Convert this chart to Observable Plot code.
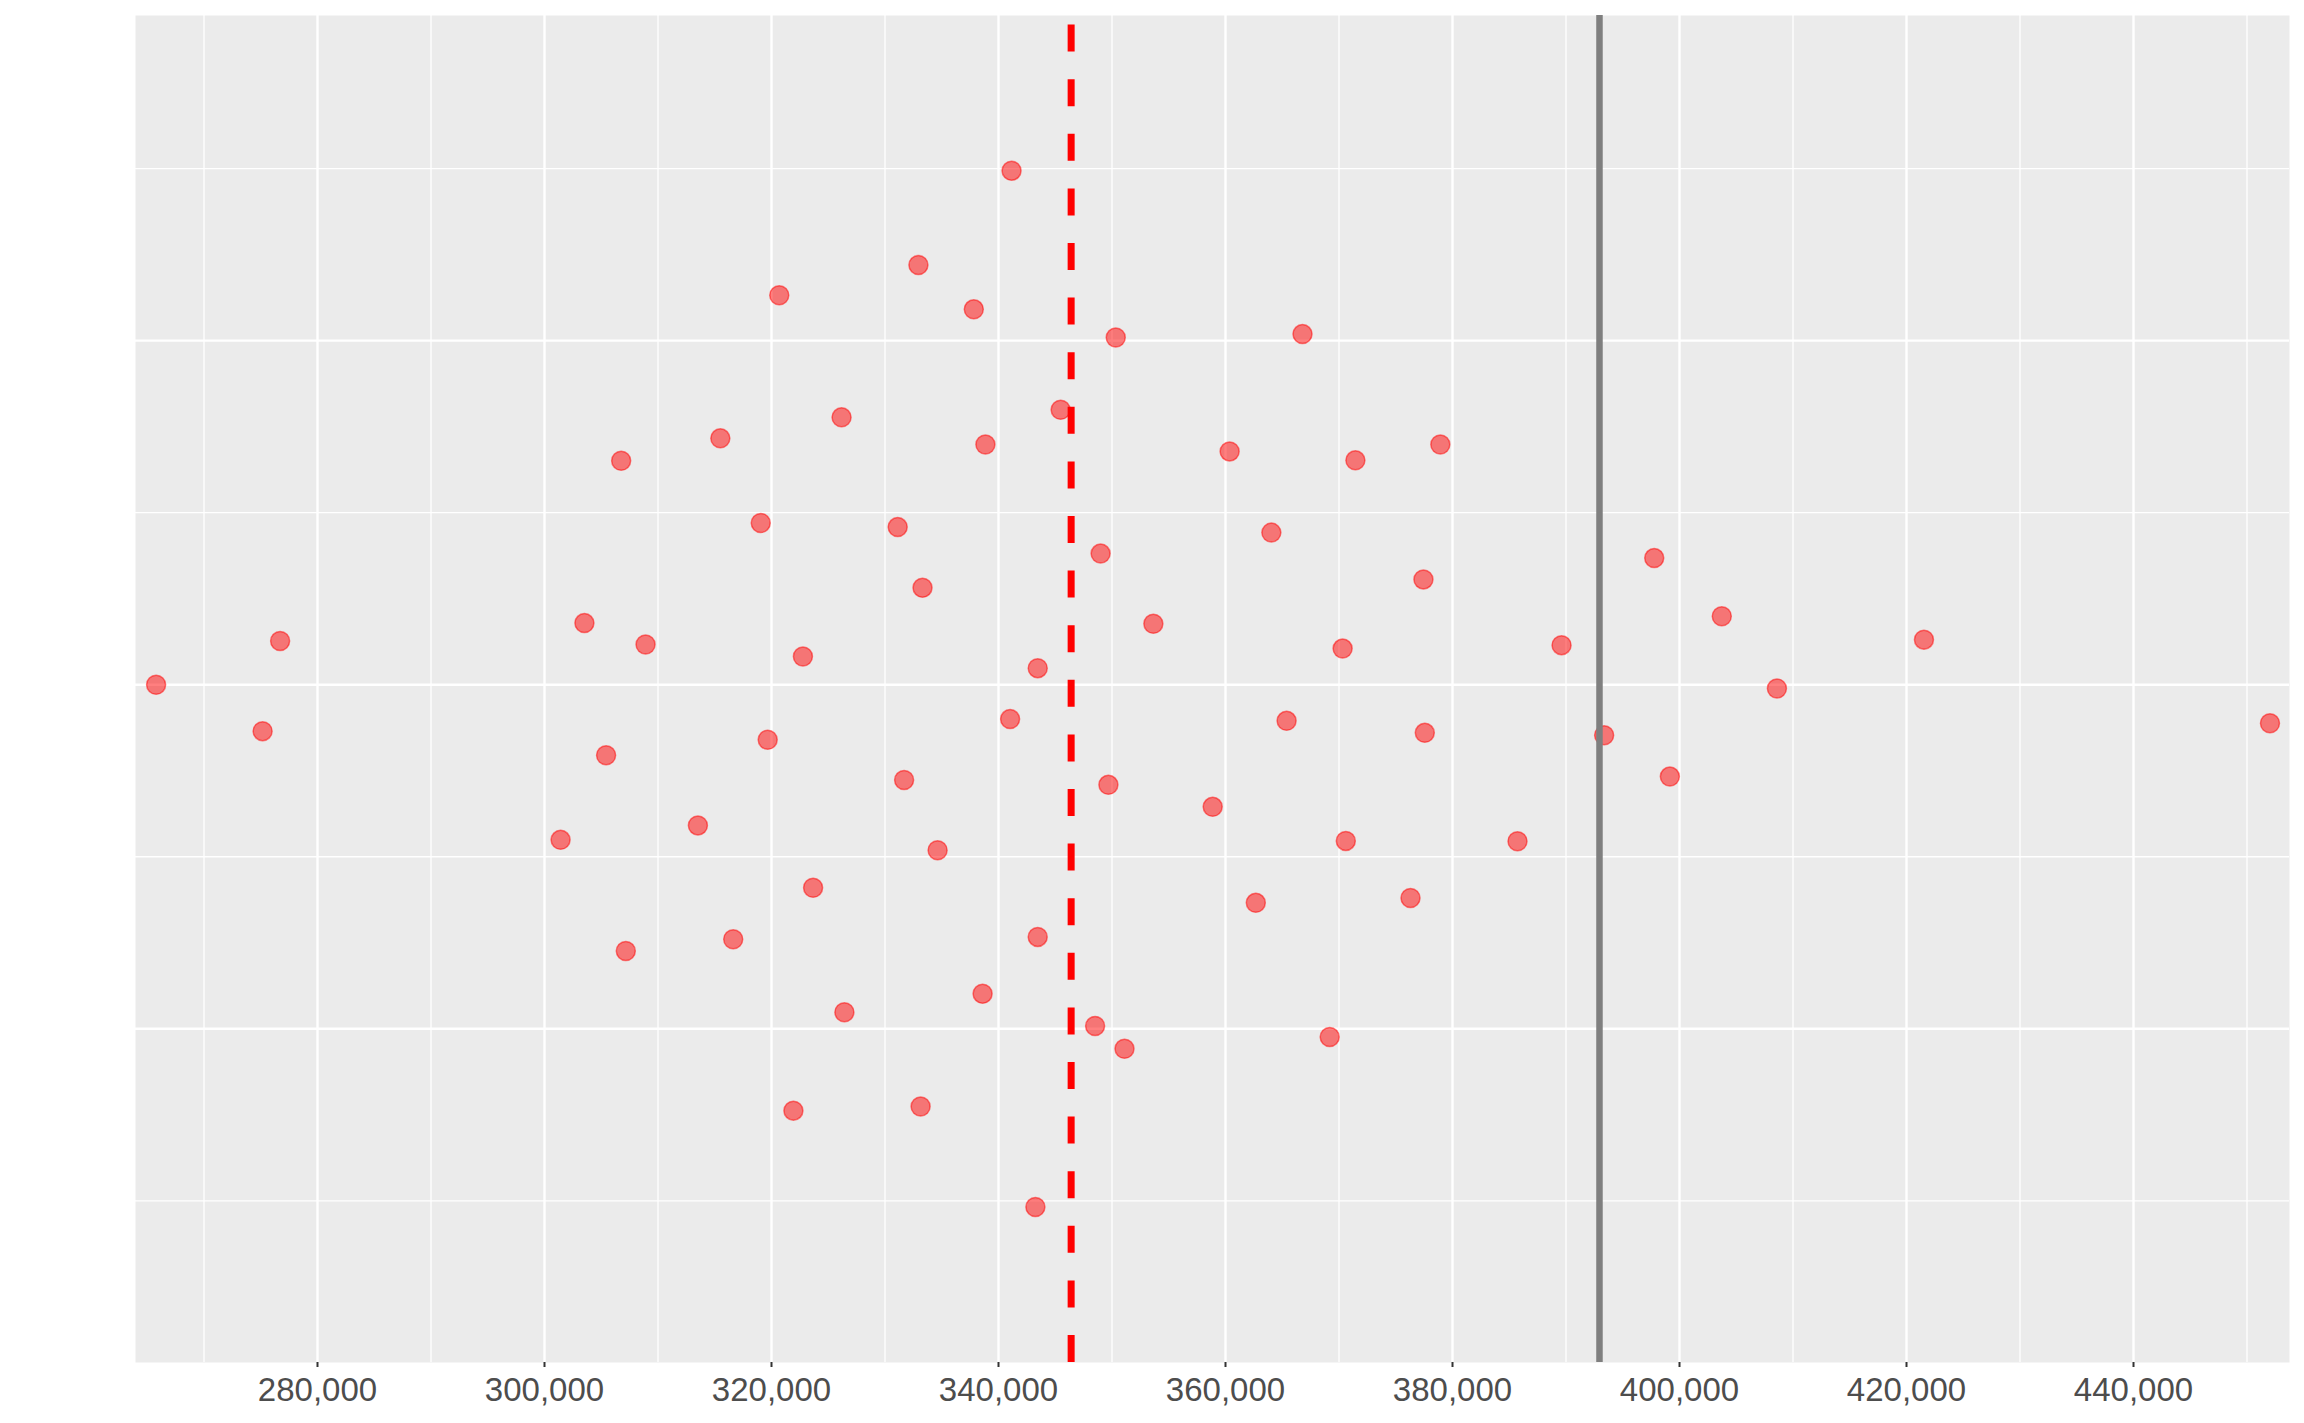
<!DOCTYPE html>
<html>
<head>
<meta charset="utf-8">
<script src="https://cdn.jsdelivr.net/npm/d3@7"></script>
<script src="https://cdn.jsdelivr.net/npm/@observablehq/plot@0.6"></script>
<style>
  html, body { margin: 0; padding: 0; background: #ffffff; }
  #chart svg { display: block; }
</style>
</head>
<body>
<div id="chart"></div>
<script>
// Observed values (x) and their vertical jitter offsets (y)
const xValues = [
  341150, 332944, 320684, 337824, 350330, 366784, 345475, 326173,
  315493, 338847, 306754, 360363, 371445, 378928, 319053, 331118,
  364040, 348997, 397773, 377439, 333306, 403725, 303517, 353644,
  276706, 308903, 389608, 421538, 370319, 322768, 343456, 265780,
  408583, 341022, 365383, 275163, 377559, 393360, 452024, 319665,
  305427, 399150, 331683, 349683, 358872, 313515, 301418, 370599,
  385727, 334634, 323665, 376300, 362670, 343454, 316626, 307163,
  338599, 326423, 348511, 369181, 351101, 333137, 321930, 343251
];
const yValues = [
  1.494, 1.220, 1.132, 1.091, 1.009, 1.019, 0.799, 0.777,
  0.716, 0.698, 0.651, 0.678, 0.652, 0.698, 0.470, 0.458,
  0.442, 0.381, 0.368, 0.306, 0.282, 0.199, 0.179, 0.177,
  0.127, 0.117, 0.115, 0.131, 0.105, 0.082, 0.048, 0.000,
  -0.011, -0.100, -0.105, -0.135, -0.140, -0.147, -0.112, -0.160,
  -0.205, -0.267, -0.277, -0.291, -0.355, -0.409, -0.451, -0.454,
  -0.455, -0.481, -0.590, -0.620, -0.634, -0.733, -0.740, -0.774,
  -0.898, -0.952, -0.992, -1.024, -1.058, -1.226, -1.238, -1.518
];
const meanValue = 346400;      // red dashed line
const referenceValue = 392950; // grey solid line

const xTicks = [280000, 300000, 320000, 340000, 360000, 380000, 400000, 420000, 440000];
const xMinor = [270000, 290000, 310000, 330000, 350000, 370000, 390000, 410000, 430000, 450000];
const yMajor = [-1, 0, 1];
const yMinor = [-1.5, -0.5, 0.5, 1.5];

const xDomain = [263965, 453744];
const yDomain = [-1.970, 1.945];

const points = xValues.map((x, i) => ({x, y: yValues[i]}));

const chart = Plot.plot({
  width: 2304,
  height: 1423,
  marginLeft: 135,
  marginRight: 15,
  marginTop: 15,
  marginBottom: 61,
  style: {fontFamily: "'Liberation Sans', Arial, Helvetica, sans-serif", background: "#ffffff"},
  x: {domain: xDomain, label: null},
  y: {domain: yDomain, axis: null},
  marks: [
    Plot.frame({fill: "#EBEBEB", stroke: null}),
    Plot.gridX(xMinor, {stroke: "#ffffff", strokeOpacity: 1, strokeWidth: 1.3}),
    Plot.gridY(yMinor, {stroke: "#ffffff", strokeOpacity: 1, strokeWidth: 1.3}),
    Plot.gridX(xTicks, {stroke: "#ffffff", strokeOpacity: 1, strokeWidth: 2.4}),
    Plot.gridY(yMajor, {stroke: "#ffffff", strokeOpacity: 1, strokeWidth: 2.4}),
    Plot.dot(points, {
      x: "x", y: "y", r: 9.5,
      fill: "red", fillOpacity: 0.5,
      stroke: "red", strokeOpacity: 0.5, strokeWidth: 1.5
    }),
    Plot.ruleX([meanValue], {
      y1: yDomain[0], y2: yDomain[1],
      stroke: "red", strokeWidth: 7, strokeDasharray: "27,27.6"
    }),
    Plot.ruleX([referenceValue], {stroke: "#7F7F7F", strokeWidth: 6.5}),
    Plot.axisX(xTicks, {
      anchor: "bottom",
      label: null,
      tickSize: 5,
      tickPadding: 10,
      fontSize: 33,
      tickFormat: d3.format(","),
      stroke: "#333333",
      strokeWidth: 2,
      fill: "#4D4D4D"
    })
  ]
});

document.getElementById("chart").appendChild(chart);
</script>
</body>
</html>
